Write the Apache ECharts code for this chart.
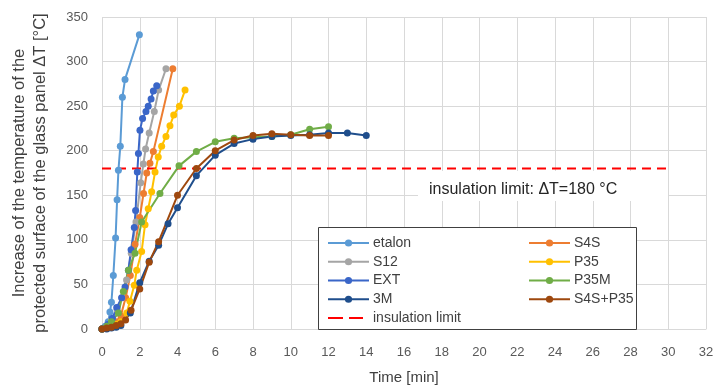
<!DOCTYPE html>
<html>
<head>
<meta charset="utf-8">
<script src="https://cdn.jsdelivr.net/npm/echarts@6/dist/echarts.min.js"></script>
<style>
  html, body { margin: 0; padding: 0; background: #fff; }
  #chart { width: 718px; height: 391px; }
</style>
</head>
<body>
<div id="chart"></div>
<script>
// [time (min), ΔT (°C)]
const etalon = [[0,0],[0.17,3],[0.33,8],[0.42,19],[0.5,30],[0.6,60],[0.72,102],[0.8,145],[0.87,178],[0.97,205],[1.08,260],[1.22,280],[1.98,330]];
const s12 = [[0,0],[0.25,3],[0.5,10],[0.8,22],[1.05,35],[1.3,55],[1.55,85],[1.8,120],[2.05,164],[2.19,185],[2.31,202],[2.5,220],[2.77,244],[3.0,268],[3.39,292]];
const ext = [[0,0],[0.3,5],[0.55,12],[0.78,24],[1.04,35],[1.22,47],[1.4,66],[1.54,89],[1.71,114],[1.78,133],[1.87,176],[1.93,197],[2.01,223],[2.15,236],[2.33,244],[2.45,250],[2.6,258],[2.72,267],[2.9,273]];
const m3 = [[0,0],[0.25,0],[0.5,1],[0.75,2],[1.0,4],[1.5,18],[2,52],[2.5,76],[3,94],[3.5,118],[4,136],[5,172],[6,195],[7,208],[8,213],[9,216],[10,217],[11,218],[12,220],[13,220],[14,217]];
const s4s = [[0,0],[0.25,2],[0.5,4],[0.75,8],[1.0,15],[1.25,35],[1.5,60],[1.75,95],[2.0,125],[2.2,152],[2.37,175],[2.54,186],[2.72,199],[3.75,292]];
const p35 = [[0,0],[0.25,1],[0.5,3],[0.75,5],[1.0,8],[1.31,18],[1.48,31],[1.71,49],[1.84,66],[2.1,87],[2.28,117],[2.45,135],[2.63,154],[2.81,176],[2.98,193],[3.16,205],[3.39,216],[3.6,228],[3.8,240],[4.1,250],[4.4,268]];
const p35m = [[0,0],[0.25,3],[0.5,8],[0.87,18],[1.13,42],[1.4,66],[1.75,85],[2.1,120],[3.07,152],[4.08,183],[5,199],[6,210],[7,214],[8,215],[9,216],[10,218],[11,224],[12,227]];
const s4sP35 = [[0,0],[0.25,1],[0.5,2],[0.75,4],[1.0,6],[1.25,10],[1.54,21],[2,45],[2.5,75],[3,98],[4,150],[5,180],[6,200],[7,212],[8,217],[9,219],[10,218],[11,217],[12,217]];
const limitLine = [[0,180],[30,180]];

const xTicks = { min: 0, max: 32, interval: 2 };
const yTicks = { min: 0, max: 350, interval: 50 };

const seriesDefs = [
  { name: 'etalon', data: etalon, color: '#5B9BD5' },
  { name: 'S4S', data: s4s, color: '#ED7D31' },
  { name: 'S12', data: s12, color: '#A5A5A5' },
  { name: 'P35', data: p35, color: '#FFC000' },
  { name: 'EXT', data: ext, color: '#3A66C8' },
  { name: 'P35M', data: p35m, color: '#70AD47' },
  { name: '3M', data: m3, color: '#1F4E8C' },
  { name: 'S4S+P35', data: s4sP35, color: '#9E480E' }
];

const font = 'Liberation Sans';
const chart = echarts.init(document.getElementById('chart'));

const series = seriesDefs.map(s => ({
  name: s.name,
  type: 'line',
  data: s.data,
  symbol: 'circle',
  symbolSize: 7,
  showSymbol: true,
  itemStyle: { color: s.color },
  lineStyle: { color: s.color, width: 2 },
  animation: false
}));

series.push({
  name: 'insulation limit',
  type: 'line',
  data: limitLine,
  symbol: 'none',
  itemStyle: { color: '#FF0000' },
  lineStyle: { color: '#FF0000', width: 2, type: [9, 6] },
  animation: false
});

// two short red dashes, padded so the icon box stays 41 x 9
const dashIcon = 'path://M0,0L0.01,0L0,0.01Z M41,9L40.99,9L41,8.99Z M0,3.5H15V5.5H0Z M21,3.5H35V5.5H21Z';

const legendBase = {
  orient: 'vertical',
  padding: 0,
  itemWidth: 41,
  itemHeight: 9,
  itemGap: 4.75,
  z: 5,
  textStyle: { fontFamily: font, fontSize: 14, lineHeight: 14, color: '#404040', padding: [0, 0, 0, -1] }
};

chart.setOption({
  backgroundColor: '#fff',
  animation: false,
  grid: { left: 102, right: 12, top: 17, bottom: 62 },
  xAxis: {
    type: 'value',
    min: xTicks.min, max: xTicks.max, interval: xTicks.interval,
    name: 'Time [min]',
    nameLocation: 'middle',
    nameGap: 41,
    nameTextStyle: { fontFamily: font, fontSize: 15, color: '#404040' },
    axisLine: { show: true, lineStyle: { color: '#D9D9D9' } },
    axisTick: { show: false },
    axisLabel: { fontFamily: font, fontSize: 13, color: '#595959', margin: 17 },
    splitLine: { show: true, lineStyle: { color: '#D9D9D9', width: 1 } }
  },
  yAxis: {
    type: 'value',
    min: yTicks.min, max: yTicks.max, interval: yTicks.interval,
    name: 'Increase of the temperature of the\nprotected surface of the glass panel ΔT [°C]',
    nameLocation: 'middle',
    nameGap: 51,
    nameRotate: 90,
    nameTextStyle: { fontFamily: font, fontSize: 16.5, color: '#404040', lineHeight: 21 },
    axisLine: { show: false },
    axisTick: { show: false },
    axisLabel: { fontFamily: font, fontSize: 13, color: '#595959', margin: 14 },
    splitLine: { show: true, lineStyle: { color: '#D9D9D9', width: 1 } }
  },
  legend: [
    Object.assign({}, legendBase, {
      left: 327, top: 236,
      data: ['etalon', 'S12', 'EXT', '3M', { name: 'insulation limit', icon: dashIcon }]
    }),
    Object.assign({}, legendBase, {
      left: 528, top: 236,
      data: ['S4S', 'P35', 'P35M', 'S4S+P35']
    })
  ],
  graphic: [
    {
      type: 'rect',
      z: 3,
      shape: { x: 318.5, y: 227.5, width: 318, height: 102 },
      style: { fill: '#fff', stroke: '#404040', lineWidth: 1 }
    },
    {
      type: 'rect',
      z: 1,
      shape: { x: 418, y: 171, width: 250, height: 30 },
      style: { fill: '#fff' }
    },
    {
      type: 'text',
      z: 3,
      left: 429, top: 182,
      style: { text: 'insulation limit: ΔT=180 °C', fontFamily: font, fontSize: 16, fill: '#262626' }
    }
  ],
  series: series
});
</script>
</body>
</html>
